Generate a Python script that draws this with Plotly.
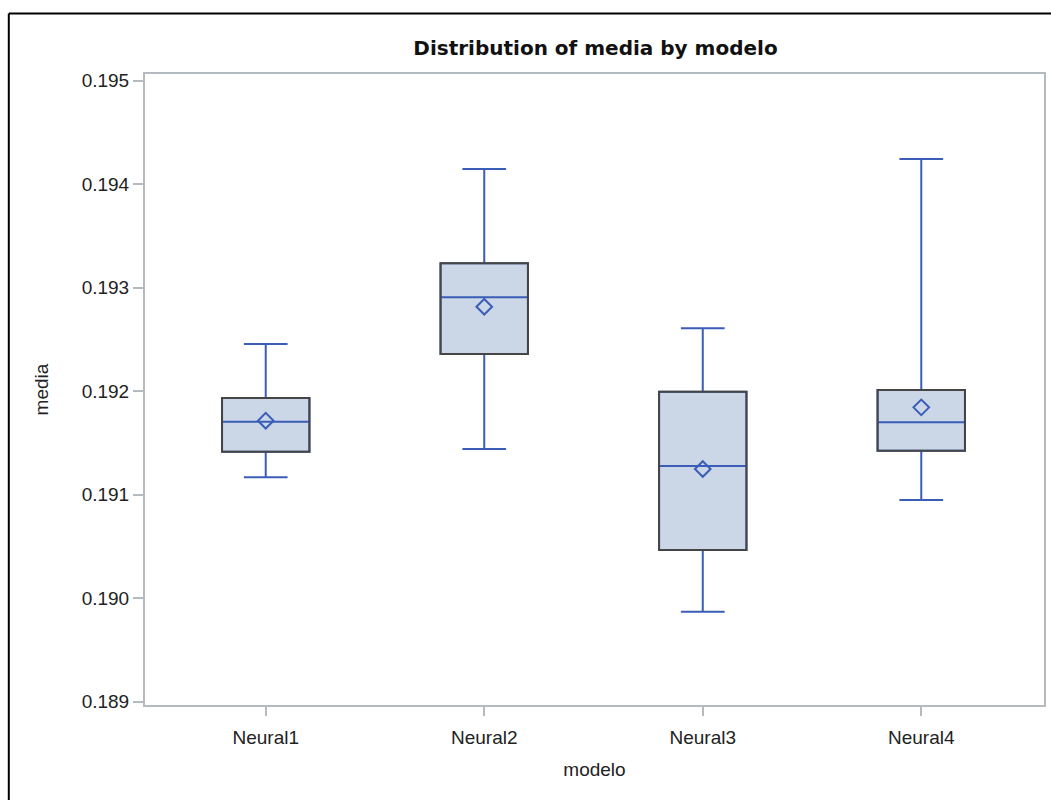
import plotly.graph_objects as go

# Summary statistics of "media" per model
modelos = ["Neural1", "Neural2", "Neural3", "Neural4"]
lower_whisker = [0.191168, 0.191441, 0.189870, 0.190949]
q1_values = [0.191415, 0.192359, 0.190466, 0.191425]
median_values = [0.191705, 0.192907, 0.191277, 0.191699]
q3_values = [0.191934, 0.193236, 0.191995, 0.192012]
upper_whisker = [0.192456, 0.194147, 0.192607, 0.194243]
mean_values = [0.191715, 0.192816, 0.191248, 0.191844]
y_tick_values = [0.189, 0.190, 0.191, 0.192, 0.193, 0.194, 0.195]

W, H = 1051, 800
ML, MR, MT, MB = 145, 5, 74, 95
BOX_W = 0.4

FILL = "#CBD6E6"
BLUE = "#3A5DB8"
OUTLINE = "#454545"
AXIS = "#B4BAC0"
TEXT = "#222222"
FONT = "Liberation Sans, Arial, sans-serif"

fig = go.Figure()

fig.add_trace(go.Box(
    x=modelos,
    q1=q1_values,
    median=median_values,
    q3=q3_values,
    lowerfence=lower_whisker,
    upperfence=upper_whisker,
    width=BOX_W,
    whiskerwidth=0.5,
    fillcolor=FILL,
    line=dict(color=BLUE, width=2),
    boxpoints=False,
    showlegend=False,
    hoverinfo="skip",
))

fig.add_trace(go.Scatter(
    x=modelos,
    y=mean_values,
    mode="markers",
    marker=dict(symbol="diamond-open", size=12, color=BLUE,
                line=dict(color=BLUE, width=2)),
    showlegend=False,
    hoverinfo="skip",
))

# Dark outline around each interquartile box
shapes = []
for i, (lo, hi) in enumerate(zip(q1_values, q3_values)):
    shapes.append(dict(type="rect", xref="x", yref="y",
                       x0=i - BOX_W / 2, x1=i + BOX_W / 2, y0=lo, y1=hi,
                       line=dict(color=OUTLINE, width=2), layer="above"))

# Outer frame of the graph (top and left edges)
pw = W - ML - MR
ph = H - MT - MB
fx = (8.5 - ML) / pw
fy = (H - MB - 13.5) / ph
shapes.append(dict(type="line", xref="paper", yref="paper",
                   x0=fx, x1=(W + 10 - ML) / pw, y0=fy, y1=fy,
                   line=dict(color="#000000", width=2)))
shapes.append(dict(type="line", xref="paper", yref="paper",
                   x0=fx, x1=fx, y0=fy, y1=-(MB + 10) / ph,
                   line=dict(color="#000000", width=2)))

fig.update_layout(
    width=W, height=H,
    margin=dict(l=ML, r=MR, t=MT, b=MB),
    paper_bgcolor="white",
    plot_bgcolor="white",
    font=dict(family=FONT, color=TEXT, size=18),
    title=dict(text="<b>Distribution of media by modelo</b>",
               x=(ML + pw / 2) / W, xanchor="center",
               y=1 - 48 / H, yanchor="middle",
               font=dict(family="DejaVu Sans, sans-serif", size=20, color="#111111")),
    shapes=shapes,
)

fig.update_xaxes(
    type="category",
    range=[-0.5525, 3.5616],
    showline=True, linecolor=AXIS, linewidth=2, mirror=True,
    ticks="outside", ticklen=9, tickwidth=2, tickcolor=AXIS,
    ticklabelstandoff=5,
    showgrid=False, zeroline=False,
    tickfont=dict(size=19, color=TEXT),
    title=dict(text="modelo", font=dict(size=19, color=TEXT), standoff=16),
)

fig.update_yaxes(
    range=[0.1889681, 0.1950647],
    tickvals=y_tick_values,
    tickformat=".3f",
    showline=True, linecolor=AXIS, linewidth=2, mirror=True,
    ticks="outside", ticklen=10, tickwidth=2, tickcolor=AXIS,
    showgrid=False, zeroline=False,
    tickfont=dict(size=19, color=TEXT),
    title=dict(text="media", font=dict(size=19, color=TEXT), standoff=28),
)

fig.write_html("out.html")
